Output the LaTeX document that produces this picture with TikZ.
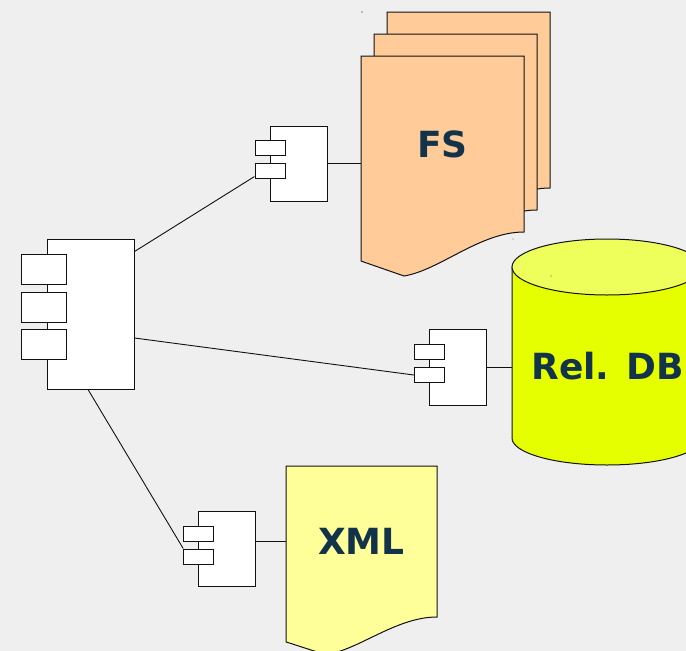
\documentclass[tikz,border=0pt]{standalone}
\usepackage{fontspec}
\setmainfont{DejaVu Sans}
\definecolor{canvas}{HTML}{EFEFEF}
\definecolor{fsfill}{HTML}{FFCC99}
\definecolor{xmlfill}{HTML}{FFFF99}
\definecolor{dbside}{HTML}{E6FF00}
\definecolor{dbtop}{HTML}{EEFF5C}
\definecolor{labelink}{HTML}{13334A}
\definecolor{edge}{HTML}{111111}
\tikzset{
  outline/.style={draw=edge, line width=1pt},
  compbody/.style={outline, fill=white, inner sep=0pt, rectangle},
  compport/.style={outline, fill=white, inner sep=0pt, rectangle,
                   minimum width=30pt, minimum height=15pt},
  bigport/.style={compport, minimum width=45pt, minimum height=30pt},
  wire/.style={draw=edge, line width=0.9pt},
  storelabel/.style={font=\bfseries\fontsize{36}{40}\selectfont, text=labelink, inner sep=0pt},
  docarea/.style={inner sep=0pt, rectangle},
  % sheet with a wavy bottom edge, drawn in a unit box (width 1, right side 1)
  docsheet/.pic={
    \path[pic actions] (0,0) -- (1,0) -- (1,1)
      .. controls (0.73,1) and (0.485,1.216) .. (0.264,1.25)
      -- (0,1.165) -- cycle;
  },
}
\begin{document}
\begin{tikzpicture}[x=1pt,y=-1pt]
  \useasboundingbox (0,0) rectangle (686,651);
  \fill[canvas] (0,0) rectangle (686,651);

  % ---- file system: three stacked sheets ----
  \begin{scope}[shift={(387,12)}, x=163pt, y=-176pt]
    \pic[outline, fill=fsfill] {docsheet};
  \end{scope}
  \begin{scope}[shift={(374,34)}, x=163pt, y=-176pt]
    \pic[outline, fill=fsfill] {docsheet};
  \end{scope}
  \begin{scope}[shift={(361,56)}, x=163pt, y=-176pt]
    \pic[outline, fill=fsfill] {docsheet};
  \end{scope}
  \node[docarea, minimum width=163pt, minimum height=176pt] (fsdoc) at (442.5,144) {};
  \node[storelabel] (fslabel) at (fsdoc.center) {FS};

  % ---- XML sheet ----
  \begin{scope}[shift={(286,466)}, x=151pt, y=-151pt]
    \pic[outline, fill=xmlfill] {docsheet};
  \end{scope}
  \node[docarea, minimum width=151pt, minimum height=151pt] (xmldoc) at (361.5,541.5) {};
  \node[storelabel] (xmllabel) at (xmldoc.center) {XML};

  % ---- relational database cylinder ----
  \path[outline, fill=dbside] (512,267) -- (512,438)
    arc[start angle=180, end angle=360, x radius=95pt, y radius=27pt]
    -- (702,267) -- cycle;
  \path[outline, fill=dbtop] (607,267) ellipse[x radius=95pt, y radius=28pt];
  \node[docarea, minimum width=190pt, minimum height=171pt] (db) at (607,352.5) {};
  \node[storelabel] (dblabel) at (607.5,366) {Rel. DB};

  % ---- main component ----
  \node[compbody, minimum width=87pt, minimum height=150pt] (main) at (90.5,314) {};
  \node[bigport] (mainp1) at (43.5,269) {};
  \node[bigport] (mainp2) at (43.5,307) {};
  \node[bigport] (mainp3) at (43.5,344.5) {};

  % ---- file system adapter ----
  \node[compbody, minimum width=57pt, minimum height=75pt] (fscomp) at (298.5,163.5) {};
  \node[compport] (fsp1) at (270,148) {};
  \node[compport] (fsp2) at (270,170.5) {};

  % ---- database adapter ----
  \node[compbody, minimum width=57pt, minimum height=76pt] (dbcomp) at (457.5,367.3) {};
  \node[compport] (dbp1) at (429.3,352) {};
  \node[compport] (dbp2) at (429.3,375) {};

  % ---- XML adapter ----
  \node[compbody, minimum width=57pt, minimum height=75pt] (xmlcomp) at (227,548.5) {};
  \node[compport] (xmlp1) at (198.7,533.5) {};
  \node[compport] (xmlp2) at (198.7,556.5) {};

  % ---- connections ----
  \draw[wire] ([yshift=-13pt]main.north east) -- ([yshift=2pt]fsp2.south west);
  \draw[wire] ([yshift=-24pt]main.east) -- (dbp2.west);
  \draw[wire] ([xshift=-2.5pt]main.south) -- (xmlp2.north west);
  \draw[wire] (fscomp.east) -- (fscomp.east -| fsdoc.west);
  \draw[wire] (dbcomp.east) -- (dbcomp.east -| db.west);
  \draw[wire] (xmldoc.west -| xmlcomp.east) -- (xmldoc.west);

  % stray marks
  \fill[edge] (362,12) circle (0.6pt);
  \fill[edge!60] (513,239) circle (0.6pt);
  \fill[edge!70] (551,276) circle (0.6pt);
\end{tikzpicture}
\end{document}
